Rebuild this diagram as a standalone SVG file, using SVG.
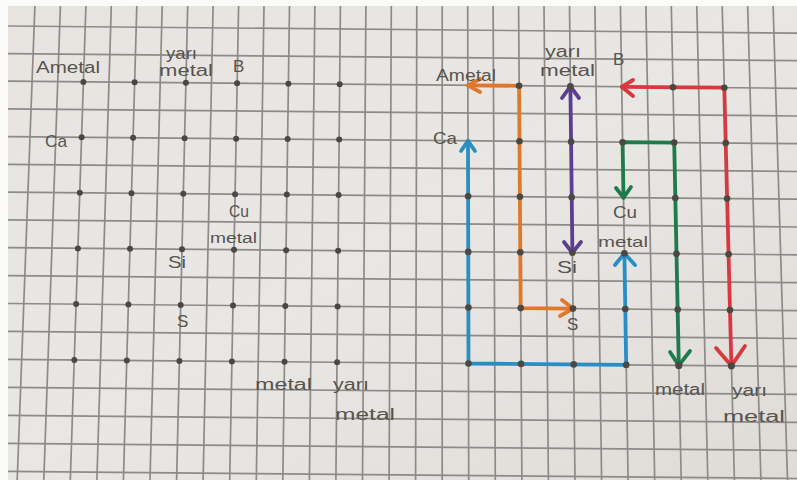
<svg xmlns="http://www.w3.org/2000/svg" width="797" height="480" viewBox="0 0 797 480">
<defs>
<linearGradient id="paper" x1="0" y1="0" x2="1" y2="1">
<stop offset="0" stop-color="#e7e4e0"/>
<stop offset="0.5" stop-color="#e9e7e4"/>
<stop offset="1" stop-color="#dfdbd7"/>
</linearGradient>
<style>
.g line{stroke:#8d8b88;stroke-width:1.7;}
.dot{fill:#4b4843;}
.hw{font-family:"Liberation Sans","DejaVu Sans",sans-serif;fill:#57544f;font-size:16px;}
.c{fill:none;stroke-width:3.8;stroke-linecap:round;stroke-linejoin:round;}
.or{stroke:#df772c;}
.pu{stroke:#5b3f8e;}
.bl{stroke:#2a8dc4;}
.gr{stroke:#1f7a4d;}
.rd{stroke:#d63a40;}
</style>
</defs>
<rect x="0" y="0" width="797" height="480" fill="#fbfbfa"/>
<rect x="8" y="6" width="789" height="474" fill="url(#paper)"/>
<g id="grid" class="g">
<line x1="34.9" y1="6" x2="17.2" y2="480"/>
<line x1="60.4" y1="6" x2="43.8" y2="480"/>
<line x1="85.9" y1="6" x2="70.3" y2="480"/>
<line x1="111.3" y1="6" x2="96.9" y2="480"/>
<line x1="136.8" y1="6" x2="123.4" y2="480"/>
<line x1="162.2" y1="6" x2="150.0" y2="480"/>
<line x1="187.7" y1="6" x2="176.6" y2="480"/>
<line x1="213.1" y1="6" x2="203.1" y2="480"/>
<line x1="238.6" y1="6" x2="229.7" y2="480"/>
<line x1="264.0" y1="6" x2="256.3" y2="480"/>
<line x1="289.5" y1="6" x2="282.8" y2="480"/>
<line x1="314.9" y1="6" x2="309.4" y2="480"/>
<line x1="340.4" y1="6" x2="335.9" y2="480"/>
<line x1="365.9" y1="6" x2="362.5" y2="480"/>
<line x1="391.3" y1="6" x2="389.1" y2="480"/>
<line x1="416.8" y1="6" x2="415.6" y2="480"/>
<line x1="442.2" y1="6" x2="442.2" y2="480"/>
<line x1="467.7" y1="6" x2="468.7" y2="480"/>
<line x1="493.1" y1="6" x2="495.3" y2="480"/>
<line x1="518.6" y1="6" x2="521.9" y2="480"/>
<line x1="544.0" y1="6" x2="548.4" y2="480"/>
<line x1="569.5" y1="6" x2="575.0" y2="480"/>
<line x1="594.9" y1="6" x2="601.6" y2="480"/>
<line x1="620.4" y1="6" x2="628.1" y2="480"/>
<line x1="645.9" y1="6" x2="654.7" y2="480"/>
<line x1="671.3" y1="6" x2="681.2" y2="480"/>
<line x1="696.8" y1="6" x2="707.8" y2="480"/>
<line x1="722.2" y1="6" x2="734.4" y2="480"/>
<line x1="747.7" y1="6" x2="760.9" y2="480"/>
<line x1="773.1" y1="6" x2="787.5" y2="480"/>
<line x1="8" y1="26.0" x2="797" y2="33.1"/>
<line x1="8" y1="53.6" x2="797" y2="60.7"/>
<line x1="8" y1="81.2" x2="797" y2="88.3"/>
<line x1="8" y1="108.9" x2="797" y2="116.0"/>
<line x1="8" y1="136.6" x2="797" y2="143.7"/>
<line x1="8" y1="164.4" x2="797" y2="171.5"/>
<line x1="8" y1="192.1" x2="797" y2="199.2"/>
<line x1="8" y1="219.9" x2="797" y2="227.0"/>
<line x1="8" y1="247.7" x2="797" y2="254.8"/>
<line x1="8" y1="275.6" x2="797" y2="282.7"/>
<line x1="8" y1="303.5" x2="797" y2="310.6"/>
<line x1="8" y1="331.4" x2="797" y2="338.5"/>
<line x1="8" y1="359.3" x2="797" y2="366.4"/>
<line x1="8" y1="387.3" x2="797" y2="394.4"/>
<line x1="8" y1="415.3" x2="797" y2="422.4"/>
<line x1="8" y1="443.4" x2="797" y2="450.5"/>
<line x1="8" y1="471.4" x2="797" y2="478.5"/>
</g>
<g id="left-dots" class="dot">
<circle cx="83.4" cy="81.9" r="3"/><circle cx="134.6" cy="82.3" r="3"/><circle cx="185.9" cy="82.8" r="3"/><circle cx="237.1" cy="83.3" r="3"/><circle cx="288.4" cy="83.7" r="3"/><circle cx="339.7" cy="84.2" r="3"/>
<circle cx="81.6" cy="137.2" r="3"/><circle cx="133.1" cy="137.7" r="3"/><circle cx="184.6" cy="138.2" r="3"/><circle cx="236.1" cy="138.7" r="3"/><circle cx="287.6" cy="139.1" r="3"/><circle cx="339.2" cy="139.6" r="3"/>
<circle cx="79.8" cy="192.7" r="3"/><circle cx="131.5" cy="193.2" r="3"/><circle cx="183.3" cy="193.7" r="3"/><circle cx="235.1" cy="194.2" r="3"/><circle cx="286.8" cy="194.6" r="3"/><circle cx="338.6" cy="195.1" r="3"/>
<circle cx="77.9" cy="248.4" r="3"/><circle cx="130.0" cy="248.8" r="3"/><circle cx="182.0" cy="249.3" r="3"/><circle cx="234.0" cy="249.8" r="3"/><circle cx="286.1" cy="250.2" r="3"/><circle cx="338.1" cy="250.7" r="3"/>
<circle cx="76.1" cy="304.1" r="3"/><circle cx="128.4" cy="304.6" r="3"/><circle cx="180.7" cy="305.0" r="3"/><circle cx="233.0" cy="305.5" r="3"/><circle cx="285.3" cy="306.0" r="3"/><circle cx="337.6" cy="306.4" r="3"/>
<circle cx="74.3" cy="360.0" r="3"/><circle cx="126.8" cy="360.4" r="3"/><circle cx="179.4" cy="360.9" r="3"/><circle cx="231.9" cy="361.4" r="3"/><circle cx="284.5" cy="361.8" r="3"/><circle cx="337.1" cy="362.3" r="3"/>
</g>
<g id="left-labels" class="hw">
<text x="36" y="73" textLength="64" lengthAdjust="spacingAndGlyphs">Ametal</text>
<g id="l-yarimetal-top"><text x="166" y="59" textLength="31" lengthAdjust="spacingAndGlyphs">yarı</text><text x="159" y="76" textLength="54" lengthAdjust="spacingAndGlyphs">metal</text></g>
<text x="233" y="72" style="font-size:17px">B</text>
<text x="45" y="147" textLength="22" lengthAdjust="spacingAndGlyphs" style="font-size:17px">Ca</text>
<text x="229" y="217" textLength="20" lengthAdjust="spacingAndGlyphs" style="font-size:17px">Cu</text>
<text x="210" y="243" textLength="47" lengthAdjust="spacingAndGlyphs" style="font-size:14px">metal</text>
<text x="168" y="268" textLength="18" lengthAdjust="spacingAndGlyphs" style="font-size:17px">Si</text>
<text x="177" y="327" style="font-size:17px">S</text>
<text x="255" y="390" textLength="57" lengthAdjust="spacingAndGlyphs">metal</text>
<text x="333" y="390" textLength="36" lengthAdjust="spacingAndGlyphs">yarı</text>
<text x="335" y="420" textLength="60" lengthAdjust="spacingAndGlyphs">metal</text>
</g>
<g id="connectors">
<g id="orange">
<polyline class="c or" points="467.9,85.4 519.1,85.8 520.7,308.1 573.0,308.6"/>
<polyline class="c or" points="480,79 467.9,85.4 480,92"/>
<polyline class="c or" points="562,300 573.0,308.6 560,316"/>
</g>
<g id="purple">
<polyline class="c pu" points="570.4,86.3 572.4,252.8"/>
<polyline class="c pu" points="562,98 570.4,86.3 579,98"/>
<polyline class="c pu" points="564,242 572.4,252.8 581,242"/>
</g>
<g id="blue">
<polyline class="c bl" points="468.0,140.8 468.5,363.5 626.2,364.9 624.4,253.3"/>
<polyline class="c bl" points="461,151 468.0,140.8 475,151"/>
<polyline class="c bl" points="615,265 624.4,253.3 635,265"/>
</g>
<g id="green">
<polyline class="c gr" points="623.5,197.7 622.6,142.2 674.2,142.6 678.8,365.4"/>
<polyline class="c gr" points="616,188 623.5,197.7 631,187"/>
<polyline class="c gr" points="670,352 678.8,365.4 690,351"/>
</g>
<g id="red">
<polyline class="c rd" points="621.7,86.8 724.3,87.7 731.4,365.8"/>
<polyline class="c rd" points="633,80 621.7,86.8 633,96"/>
<polyline class="c rd" points="716,348 731.4,365.8 745,346"/>
</g>
</g>
<g id="right-dots" class="dot">
<circle cx="519.1" cy="85.8" r="3.3"/><circle cx="570.4" cy="86.3" r="3.3"/><circle cx="673.0" cy="87.3" r="3.3"/><circle cx="724.3" cy="87.7" r="3.3"/>
<circle cx="519.5" cy="141.2" r="3.3"/><circle cx="571.1" cy="141.7" r="3.3"/><circle cx="622.6" cy="142.2" r="3.3"/><circle cx="674.2" cy="142.6" r="3.3"/><circle cx="725.7" cy="143.1" r="3.3"/>
<circle cx="468.1" cy="196.3" r="3.3"/><circle cx="519.9" cy="196.7" r="3.3"/><circle cx="571.7" cy="197.2" r="3.3"/><circle cx="675.3" cy="198.1" r="3.3"/><circle cx="727.1" cy="198.6" r="3.3"/>
<circle cx="468.2" cy="251.9" r="3.3"/><circle cx="520.3" cy="252.3" r="3.3"/><circle cx="572.4" cy="252.8" r="3.3"/><circle cx="624.4" cy="253.3" r="3.3"/><circle cx="676.5" cy="253.8" r="3.3"/><circle cx="728.6" cy="254.2" r="3.3"/>
<circle cx="468.4" cy="307.6" r="3.3"/><circle cx="520.7" cy="308.1" r="3.3"/><circle cx="573.0" cy="308.6" r="3.3"/><circle cx="625.3" cy="309.0" r="3.3"/><circle cx="677.7" cy="309.5" r="3.3"/><circle cx="730.0" cy="310.0" r="3.3"/>
<circle cx="468.5" cy="363.5" r="3.3"/><circle cx="521.1" cy="363.9" r="3.3"/><circle cx="573.7" cy="364.4" r="3.3"/><circle cx="626.2" cy="364.9" r="3.3"/><circle cx="678.8" cy="365.4" r="3.6"/><circle cx="731.4" cy="365.8" r="3.6"/>
</g>
<g id="right-labels" class="hw">
<g id="r-ametal"><text x="436" y="81" textLength="60" lengthAdjust="spacingAndGlyphs">Ametal</text></g>
<g id="r-yarimetal-top"><text x="545" y="57" textLength="36" lengthAdjust="spacingAndGlyphs">yarı</text><text x="540" y="76" textLength="55" lengthAdjust="spacingAndGlyphs">metal</text></g>
<g id="r-b"><text x="613" y="65" style="font-size:17px">B</text></g>
<g id="r-ca"><text x="433" y="144" textLength="24" lengthAdjust="spacingAndGlyphs" style="font-size:17px">Ca</text></g>
<g id="r-cu"><text x="613" y="218" textLength="24" lengthAdjust="spacingAndGlyphs" style="font-size:17px">Cu</text></g>
<g id="r-metal-mid"><text x="598" y="247" textLength="50" lengthAdjust="spacingAndGlyphs" style="font-size:15px">metal</text></g>
<g id="r-si"><text x="557" y="273" textLength="20" lengthAdjust="spacingAndGlyphs" style="font-size:17px">Si</text></g>
<g id="r-s"><text x="567" y="330" style="font-size:17px">S</text></g>
<g id="r-metal-bottom"><text x="655" y="395" textLength="50" lengthAdjust="spacingAndGlyphs">metal</text></g>
<g id="r-yarimetal-bottom"><text x="732" y="396" textLength="35" lengthAdjust="spacingAndGlyphs">yarı</text><text x="723" y="422" textLength="62" lengthAdjust="spacingAndGlyphs">metal</text></g>
</g>
</svg>
